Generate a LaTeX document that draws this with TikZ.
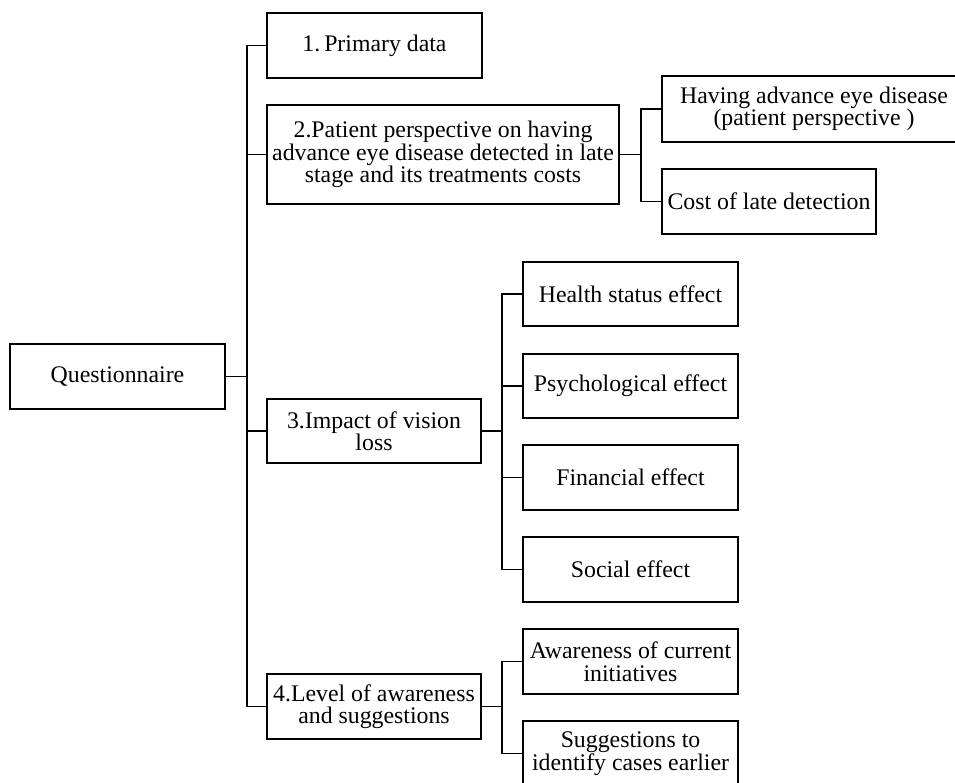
\documentclass[tikz,border=0pt]{standalone}
\usepackage{fontspec}
\setmainfont{Liberation Serif}
\begin{document}
\begin{tikzpicture}[x=1pt,y=-1pt,
  box/.style={draw, line width=1.2pt, inner sep=0pt, align=center, font=\fontsize{23.8}{22.5}\selectfont},
  conn/.style={line width=1.1pt},
  thickconn/.style={line width=1.7pt}]
\useasboundingbox (0,0) rectangle (955,783);
\clip (0,0) rectangle (955,783);
\node[box, minimum width=215, minimum height=65] (q) at (117.5,376.5) {Questionnaire};
\node[box, minimum width=215, minimum height=65] (p1) at (374.5,45.5) {1.\,Primary data};
\node[box, minimum width=352, minimum height=99] (p2) at (443,154.5) {2.Patient perspective on having\\advance eye disease detected in late\\stage and its treatments costs};
\node[box, minimum width=304, minimum height=66] (h) at (814,109) {Having advance eye disease\\(patient perspective )};
\node[box, minimum width=214, minimum height=65] (c) at (769,201.5) {Cost of late detection};
\node[box, minimum width=214, minimum height=64] (p3) at (374,431) {3.Impact of vision\\loss};
\node[box, minimum width=215, minimum height=64] (hs) at (630.5,294) {Health status effect};
\node[box, minimum width=215, minimum height=64] (ps) at (630.5,386) {Psychological effect};
\node[box, minimum width=215, minimum height=65] (fe) at (630.5,477.5) {Financial effect};
\node[box, minimum width=215, minimum height=65] (se) at (630.5,569.5) {Social effect};
\node[box, minimum width=214, minimum height=65] (p4) at (374,706.5) {4.Level of awareness\\and suggestions};
\node[box, minimum width=215, minimum height=65] (aw) at (630.5,661.5) {Awareness of current\\initiatives};
\node[box, minimum width=215, minimum height=65] (su) at (630.5,753.5) {Suggestions to\\identify cases earlier};
% main trunk
\coordinate (t) at (247,0);
\draw[conn] (q.east) -- (q.east -| t);
\draw[conn] (p1.west) -- (p1.west -| t) -- (p4.west -| t) -- (p4.west);
\draw[conn] (p2.west) -- (p2.west -| t);
\draw[conn] (p3.west) -- (p3.west -| t);
% branch 2
\coordinate (t2) at (641,0);
\draw[conn] (p2.east) -- (p2.east -| t2);
\draw[conn] (h.west) -- (h.west -| t2) -- (c.west -| t2) -- (c.west);
% branch 3
\coordinate (t3) at (502,0);
\draw[thickconn] (p3.east) -- (p3.east -| t3);
\draw[conn] (hs.west) -- (hs.west -| t3) -- (se.west -| t3) -- (se.west);
\draw[conn] (ps.west) -- (ps.west -| t3);
\draw[conn] (fe.west) -- (fe.west -| t3);
% branch 4
\draw[thickconn] (p4.east) -- (p4.east -| t3);
\draw[conn] (aw.west) -- (aw.west -| t3) -- (su.west -| t3) -- (su.west);
\end{tikzpicture}
\end{document}
